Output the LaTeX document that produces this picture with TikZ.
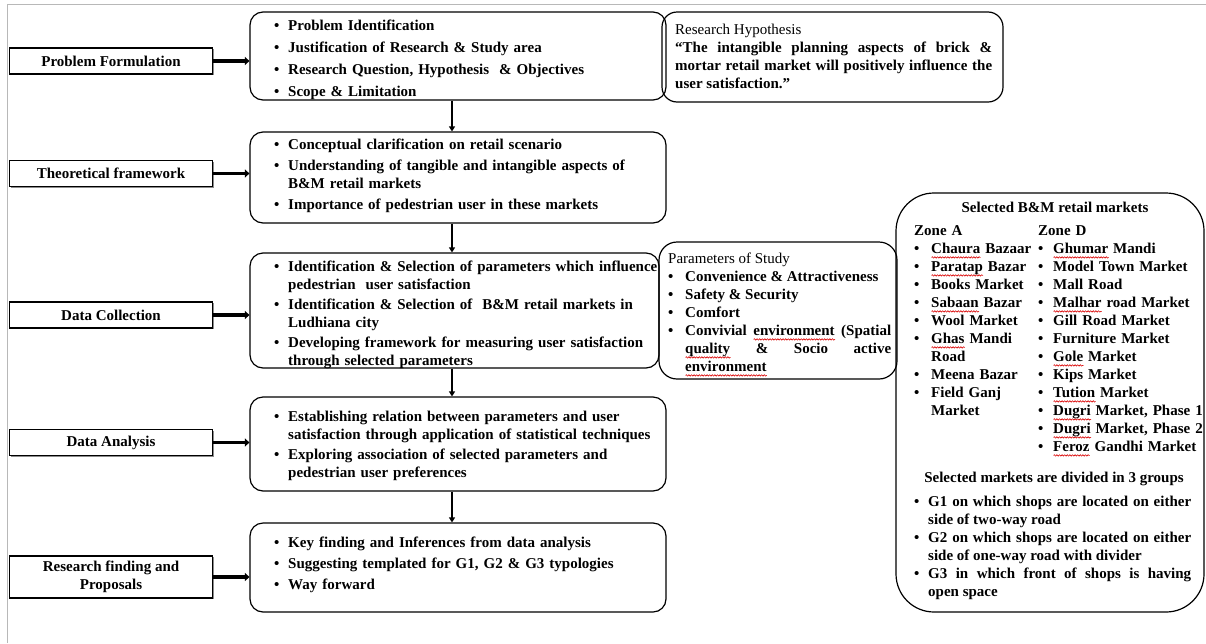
\documentclass[tikz,border=0pt]{standalone}
\usepackage{fontspec}
\setmainfont{Liberation Serif}
\usetikzlibrary{arrows.meta,shadows,decorations.pathmorphing}
\newsavebox\sqbox
\newcommand\sqw[1]{\sbox\sqbox{#1}\rlap{\tikz[baseline=0pt,x=1pt,y=1pt]\draw[red!85!black,line width=0.6pt,decorate,decoration={snake,amplitude=0.7pt,segment length=2.6pt}] (0,-3.6) -- (\the\wd\sqbox,-3.6);}\usebox\sqbox}
\newlength\bw
\setlength\bw{14pt}
\newcommand\fitm[1]{\noindent\hangindent=\bw\hangafter=1\makebox[\bw][l]{\strut\textbullet}#1}
\newcommand\itm[1]{\par\fitm{#1}}
\tikzset{
  lbox/.style={draw, fill=white, line width=1.4pt, minimum width=203pt, minimum height=26pt, inner sep=0pt,
    font=\fontsize{15}{18}\selectfont\bfseries, align=center,
    drop shadow={shadow xshift=1.2pt, shadow yshift=-1.2pt, fill=black, opacity=0.45}},
  rbox/.style={draw, line width=1.2pt, rounded corners=13pt, inner sep=0pt},
  txt/.style={anchor=north west, inner sep=0pt, font=\fontsize{15}{18}\selectfont\bfseries, align=left},
  jtxt/.style={txt, align=justify},
  harrow/.style={line width=3.8pt, -{Triangle[length=4.5pt,width=8pt]}},
  varrow/.style={line width=1.6pt, -{Triangle[length=5pt,width=6pt]}},
  frame/.style={draw=black!28, line width=1.2pt}
}
\begin{document}
\begin{tikzpicture}[x=1pt,y=-1pt]
\useasboundingbox (0,0) rectangle (1206,643);
% page frame
\draw[frame] (7.5,643) -- (7.5,4.5) -- (1206,4.5);

% left stage boxes
\node[lbox] (pf) at (111,61) {Problem Formulation};
\node[lbox] (tf) at (111,173.5) {Theoretical framework};
\node[lbox] (dc) at (111,315) {Data Collection};
\node[lbox] (da) at (111,442.5) {Data Analysis};
\node[lbox, minimum height=42pt] (rf) at (111,577) {Research finding and\\Proposals};

% centre boxes
\node[rbox, minimum width=416pt, minimum height=88pt] (b1) at (458,56) {};
\node[rbox, minimum width=416pt, minimum height=91pt] (b2) at (458,177.5) {};
\node[rbox, minimum width=409pt, minimum height=115pt] (b3) at (454.5,310.5) {};
\node[rbox, minimum width=416pt, minimum height=94pt] (b4) at (458,444) {};
\node[rbox, minimum width=416pt, minimum height=89pt] (b5) at (458,567.5) {};

% side boxes
\node[rbox, rounded corners=15pt, minimum width=341pt, minimum height=90pt] (hyp) at (832.5,57) {};
\node[rbox, rounded corners=18pt, minimum width=238pt, minimum height=137pt] (par) at (778,310.5) {};
\node[rbox, rounded corners=38pt, minimum width=308pt, minimum height=419pt] (sel) at (1050,402.5) {};

% horizontal arrows
\draw[harrow] (pf.east) -- (pf.east -| b1.west);
\draw[harrow] (tf.east) -- (tf.east -| b2.west);
\draw[harrow] (dc.east) -- (dc.east -| b3.west);
\draw[harrow] (da.east) -- (da.east -| b4.west);
\draw[harrow] (rf.east) -- (rf.east -| b5.west);

% vertical arrows
\coordinate (ax) at (452,0);
\draw[varrow] (b1.south -| ax) -- (b2.north -| ax);
\draw[varrow] (b2.south -| ax) -- (b3.north -| ax);
\draw[varrow] (b3.south -| ax) -- (b4.north -| ax);
\draw[varrow] (b4.south -| ax) -- (b5.north -| ax);

% centre box texts
\node[txt, text width=390pt] (t1) at (274,18) {\parskip=4pt
\fitm{Problem Identification}
\itm{Justification of Research \& Study area}
\itm{Research Question, Hypothesis\ \ \& Objectives}
\itm{Scope \& Limitation}\par};
\node[txt, text width=390pt] (t2) at (274,137) {\parskip=3pt
\fitm{Conceptual clarification on retail scenario}
\itm{Understanding of tangible and intangible aspects of\newline B\&M retail markets}
\itm{Importance of pedestrian user in these markets}\par};
\node[txt, text width=390pt] (t3) at (274,259) {\parskip=2pt
\fitm{Identification \& Selection of parameters which influence\newline pedestrian\ \ user satisfaction}
\itm{Identification \& Selection of\ \ B\&M retail markets in\newline Ludhiana city}
\itm{Developing framework for measuring user satisfaction\newline through selected parameters}\par};
\node[txt, text width=390pt] (t4) at (274,409) {\parskip=2pt
\fitm{Establishing relation between parameters and user\newline satisfaction through application of statistical techniques}
\itm{Exploring association of selected parameters and\newline pedestrian user preferences}\par};
\node[txt, text width=390pt] (t5) at (274,535) {\parskip=3pt
\fitm{Key finding and Inferences from data analysis}
\itm{Suggesting templated for G1, G2 \& G3 typologies}
\itm{Way forward}\par};

% hypothesis
\node[jtxt, text width=317pt] (th) at (675,22) {\noindent{\mdseries\strut Research Hypothesis}\par
\noindent\strut “The intangible planning aspects of brick \&\linebreak mortar retail market will positively influence the\linebreak user satisfaction.”\par};

% parameters
\node[jtxt, text width=223pt] (tp) at (668,251) {\bw=17pt
\noindent{\mdseries\strut Parameters of Study}\par
\itm{Convenience \& Attractiveness}
\itm{Safety \& Security}
\itm{Comfort}
\itm{Convivial \sqw{environment} (Spatial\linebreak \sqw{quality} \& Socio active\linebreak \sqw{environment}}\par};

% selected markets
\node[anchor=base, inner sep=0pt, font=\fontsize{15}{18}\selectfont\bfseries] (st) at (1055,212) {Selected B\&M retail markets};
\node[txt, text width=125pt] (za) at (914,223) {\bw=17pt
\noindent\strut Zone A\par
\itm{\sqw{Chaura} Bazaar}
\itm{\sqw{Paratap} Bazar}
\itm{Books Market}
\itm{\sqw{Sabaan} Bazar}
\itm{Wool Market}
\itm{\sqw{Ghas} Mandi\newline Road}
\itm{Meena Bazar}
\itm{Field Ganj\newline Market}\par};
\node[txt, text width=185pt] (zd) at (1038,223) {\bw=15pt
\noindent\strut Zone D\par
\itm{\sqw{Ghumar} Mandi}
\itm{Model Town Market}
\itm{Mall Road}
\itm{\sqw{Malhar} road Market}
\itm{Gill Road Market}
\itm{Furniture Market}
\itm{\sqw{Gole} Market}
\itm{Kips Market}
\itm{\sqw{Tution} Market}
\itm{\sqw{Dugri} Market, Phase 1}
\itm{\sqw{Dugri} Market, Phase 2}
\itm{\sqw{Feroz} Gandhi Market}\par};
\node[anchor=base, inner sep=0pt, font=\fontsize{15}{18}\selectfont\bfseries] (sg) at (1054,482) {Selected markets are divided in 3 groups};
\node[jtxt, text width=277pt] (tg) at (914,494) {%
\fitm{G1 on which shops are located on either\linebreak side of two-way road}
\itm{G2 on which shops are located on either\linebreak side of one-way road with divider}
\itm{G3 in which front of shops is having\linebreak open space}\par};
\end{tikzpicture}
\end{document}
